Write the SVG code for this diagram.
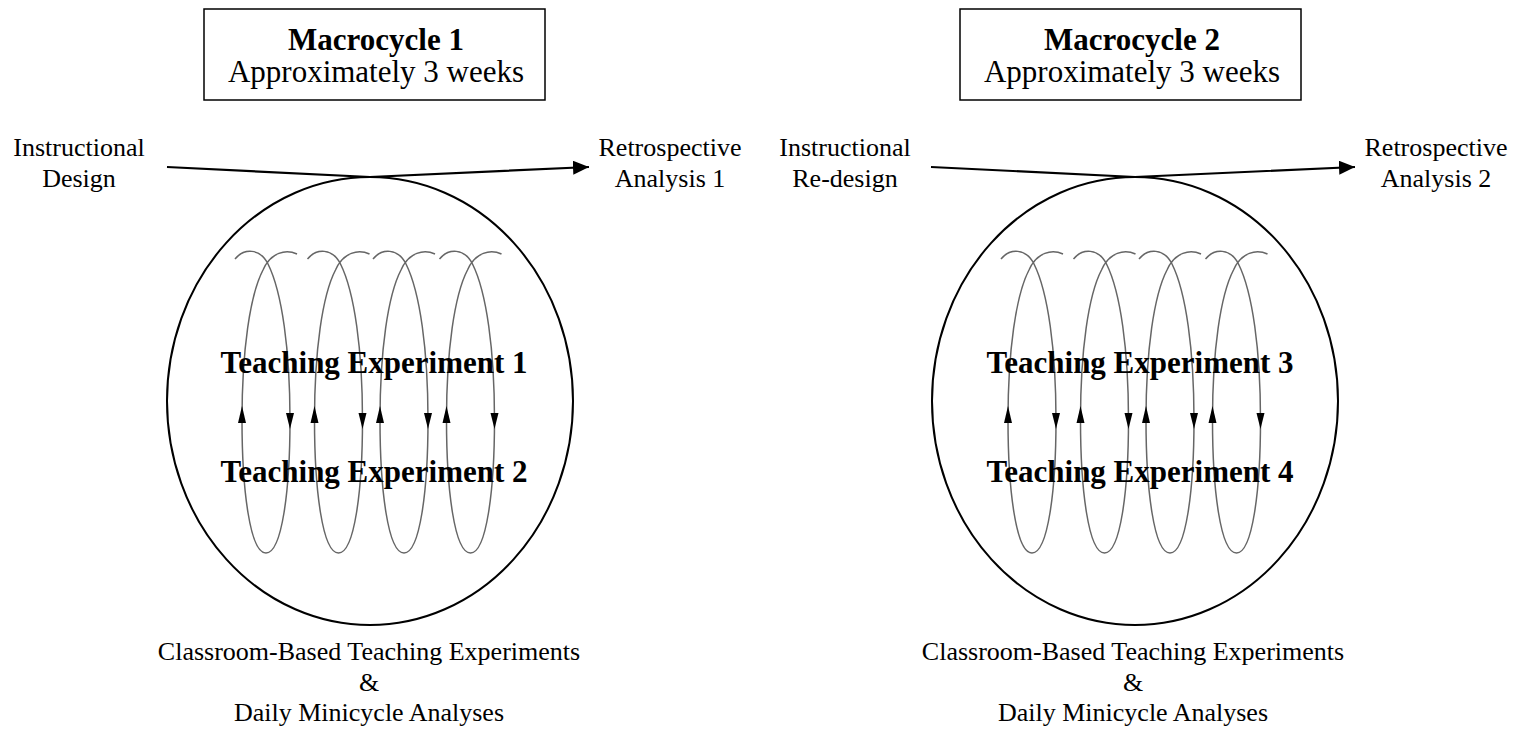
<svg xmlns="http://www.w3.org/2000/svg" width="1522" height="732" viewBox="0 0 1522 732">
<defs>
<style>
.box{fill:#fff;stroke:#000;stroke-width:1.5}
.ell{fill:none;stroke:#000;stroke-width:2}
.conn{fill:none;stroke:#000;stroke-width:2.2}
.loop{fill:none;stroke:#666;stroke-width:1.5}
.t{font-family:"Liberation Serif","Times New Roman",serif;fill:#000;text-anchor:middle}
.title{font-size:31px;font-weight:bold}
.sub{font-size:31px}
.lbl{font-size:26px}
.te{font-size:31px;font-weight:bold}
</style>
<marker id="ah" viewBox="0 0 16 14" refX="16" refY="7" markerWidth="16" markerHeight="14" markerUnits="userSpaceOnUse" orient="auto">
<path d="M0,0 L16,7 L0,14 Z" fill="#000"/>
</marker>
<g id="loopShape">
<path class="loop" d="M235,259 C244,248 260,248 268,264 C282,292 290,350 290,420 C290,490 282,553 266,553 C250,553 242,490 242,420 C242,350 250,295 263,270 C271,252 286,249 297,254"/>
<path d="M242,406 L238,423 L246,423 Z" fill="#000"/>
<path d="M290,429 L286,413 L294,413 Z" fill="#000"/>
</g>
</defs>
<rect width="1522" height="732" fill="#fff"/>

<g id="macrocycle1">
<rect class="box" x="204" y="9" width="341" height="91"/>
<text class="t title" x="376" y="50">Macrocycle 1</text>
<text class="t sub" x="376" y="82">Approximately 3 weeks</text>
</g>
<g id="macrocycle2">
<rect class="box" x="960" y="9" width="341" height="91"/>
<text class="t title" x="1132" y="50">Macrocycle 2</text>
<text class="t sub" x="1132" y="82">Approximately 3 weeks</text>
</g>

<g id="design1">
<text class="t lbl" x="79" y="156">Instructional</text>
<text class="t lbl" x="79" y="187">Design</text>
</g>
<g id="retro1">
<text class="t lbl" x="670" y="156">Retrospective</text>
<text class="t lbl" x="670" y="187">Analysis 1</text>
</g>
<g id="design2">
<text class="t lbl" x="845" y="156">Instructional</text>
<text class="t lbl" x="845" y="187">Re-design</text>
</g>
<g id="retro2">
<text class="t lbl" x="1436" y="156">Retrospective</text>
<text class="t lbl" x="1436" y="187">Analysis 2</text>
</g>

<g id="experiments1">
<ellipse class="ell" cx="370" cy="401" rx="203" ry="224"/>
<use href="#loopShape"/>
<use href="#loopShape" x="72.5"/>
<use href="#loopShape" x="138"/>
<use href="#loopShape" x="204.5"/>
<text class="t te" x="374" y="373">Teaching Experiment 1</text>
<text class="t te" x="374" y="482">Teaching Experiment 2</text>
</g>
<g id="experiments2">
<ellipse class="ell" cx="1135" cy="401" rx="203" ry="224"/>
<use href="#loopShape" x="766"/>
<use href="#loopShape" x="838.5"/>
<use href="#loopShape" x="904"/>
<use href="#loopShape" x="970.5"/>
<text class="t te" x="1140" y="373">Teaching Experiment 3</text>
<text class="t te" x="1140" y="482">Teaching Experiment 4</text>
</g>

<g id="caption1">
<text class="t lbl" x="369" y="660">Classroom-Based Teaching Experiments</text>
<text class="t lbl" x="369" y="691">&amp;</text>
<text class="t lbl" x="369" y="721">Daily Minicycle Analyses</text>
</g>
<g id="caption2">
<text class="t lbl" x="1133" y="660">Classroom-Based Teaching Experiments</text>
<text class="t lbl" x="1133" y="691">&amp;</text>
<text class="t lbl" x="1133" y="721">Daily Minicycle Analyses</text>
</g>

<g id="connectors">
<polyline class="conn" points="167,167 370,177 589,167" marker-end="url(#ah)"/>
<polyline class="conn" points="931,167 1135,177 1355,167" marker-end="url(#ah)"/>
</g>
</svg>
